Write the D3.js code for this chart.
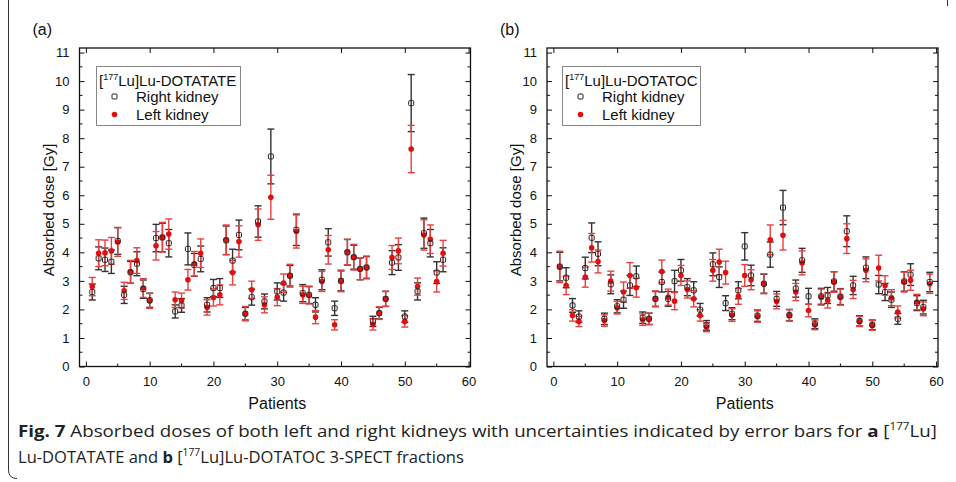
<!DOCTYPE html>
<html>
<head>
<meta charset="utf-8">
<script src="https://cdn.jsdelivr.net/npm/d3@7"></script>
<style>
  body { margin: 0; background: #fff; }
  svg { display: block; }
</style>
</head>
<body>
<div id="chart"></div>
<script>
// panel (a) [177Lu]Lu-DOTATATE, patients 1..56
var patientsA = d3.range(1, 57);
var rightA = [2.61,3.79,3.74,3.67,4.40,2.51,3.30,3.60,2.71,2.32,4.50,4.52,4.32,1.93,2.14,4.12,3.56,3.77,2.16,2.75,
  2.75,4.42,3.71,4.61,1.85,2.43,5.08,2.28,7.36,2.63,2.59,3.18,4.79,2.57,2.51,2.16,3.04,4.35,2.04,3.00,
  4.00,3.83,3.42,3.47,1.58,1.87,2.37,3.64,3.82,1.75,9.23,2.63,4.67,4.32,3.29,3.74];
var rightErrA = [0.28,0.40,0.41,0.41,0.47,0.30,0.38,0.42,0.32,0.25,0.48,0.50,0.48,0.23,0.24,0.56,0.40,0.45,0.25,0.30,
  0.33,0.50,0.40,0.52,0.22,0.28,0.55,0.26,0.96,0.30,0.30,0.36,0.55,0.30,0.30,0.25,0.35,0.48,0.25,0.35,
  0.45,0.42,0.38,0.38,0.18,0.20,0.26,0.42,0.45,0.20,1.00,0.30,0.53,0.48,0.38,0.42];
var leftA = [2.80,3.97,3.98,4.05,4.36,2.65,3.32,3.71,2.75,2.30,4.23,4.53,4.64,2.34,2.31,3.04,3.60,3.97,2.07,2.42,
  2.51,4.44,3.29,4.38,1.85,2.69,4.97,2.16,5.93,2.43,2.92,3.18,4.73,2.51,2.49,1.73,2.98,4.09,1.46,3.00,
  4.01,3.83,3.42,3.47,1.48,1.87,2.37,3.82,4.05,1.58,7.62,2.80,4.61,4.46,2.98,3.97];
var leftErrA = [0.32,0.47,0.45,0.47,0.50,0.30,0.40,0.45,0.33,0.26,0.50,0.52,0.53,0.27,0.26,0.36,0.43,0.50,0.27,0.30,
  0.35,0.52,0.43,0.55,0.25,0.30,0.55,0.28,0.77,0.30,0.32,0.40,0.58,0.30,0.30,0.23,0.35,0.50,0.18,0.38,
  0.45,0.45,0.38,0.40,0.20,0.22,0.27,0.42,0.45,0.20,0.83,0.30,0.53,0.50,0.37,0.45];

// panel (b) [177Lu]Lu-DOTATOC, patients 1..59
var patientsB = d3.range(1, 60);
var rightB = [3.50,3.11,2.14,1.75,3.45,4.51,3.95,1.67,2.88,2.11,2.34,2.84,3.16,1.71,1.67,2.37,2.96,2.37,2.99,3.37,
  2.78,2.67,1.99,1.44,3.58,3.13,2.22,1.85,2.67,4.21,3.19,1.78,2.90,3.92,2.37,5.57,1.80,2.73,3.72,2.46,
  1.50,2.46,2.49,2.98,2.45,4.74,2.84,1.60,3.46,1.46,2.87,2.61,2.34,1.67,2.98,3.22,2.22,2.08,2.96];
var rightErrB = [0.50,0.35,0.24,0.20,0.38,0.52,0.42,0.20,0.33,0.23,0.30,0.35,0.36,0.20,0.20,0.26,0.35,0.26,0.38,0.38,
  0.30,0.30,0.22,0.17,0.40,0.36,0.26,0.21,0.30,0.48,0.36,0.20,0.33,0.44,0.26,0.60,0.20,0.30,0.42,0.28,
  0.17,0.28,0.28,0.34,0.28,0.54,0.32,0.18,0.38,0.17,0.32,0.30,0.27,0.19,0.34,0.38,0.26,0.24,0.34];
var leftB = [3.49,2.84,1.79,1.58,3.13,4.16,3.68,1.61,2.99,2.06,2.61,3.19,2.76,1.64,1.67,2.37,3.33,2.43,2.29,3.19,
  2.70,2.37,1.79,1.38,3.37,3.66,3.29,1.80,2.46,3.19,3.04,1.75,2.90,4.44,2.28,4.60,1.79,2.61,3.63,1.96,
  1.46,2.43,2.32,2.96,2.43,4.48,2.70,1.58,3.37,1.44,3.45,2.84,2.41,1.91,2.96,3.02,2.26,2.02,2.90];
var leftErrB = [0.55,0.32,0.20,0.18,0.35,0.50,0.40,0.20,0.35,0.22,0.35,0.45,0.33,0.20,0.20,0.28,0.40,0.28,0.30,0.35,
  0.30,0.28,0.20,0.16,0.38,0.45,0.40,0.22,0.28,0.38,0.35,0.20,0.35,0.52,0.26,0.52,0.20,0.30,0.42,0.22,
  0.17,0.28,0.27,0.36,0.28,0.52,0.32,0.18,0.40,0.17,0.45,0.34,0.28,0.21,0.35,0.35,0.27,0.24,0.34];

var xTicks = [0, 10, 20, 30, 40, 50, 60];
var yTicks = [0, 1, 2, 3, 4, 5, 6, 7, 8, 9, 10, 11];

var width = 956;
var height = 482;
var black = "#222";
var red = "#e01010";
var redBar = "#e84040";
var plotFont = "'Liberation Sans', Arial, sans-serif";

var svg = d3.select("#chart").append("svg").attr("width", width).attr("height", height);

// outer figure frame
svg.append("path")
  .attr("d", "M8.5,0 L8.5,470 Q8.5,478.5 17,478.5 M947.5,0 L947.5,6")
  .attr("fill", "none").attr("stroke", "#333").attr("stroke-width", 1);

function drawPanel(opt) {
  var x = d3.scaleLinear().domain([-1, 60.3]).range([opt.left, opt.left + 391]);
  var y = d3.scaleLinear().domain([0, 11.16]).range([366.5, 48]);
  var g = svg.append("g").attr("font-family", plotFont).attr("fill", "#111");

  g.append("text").attr("x", opt.left - 47).attr("y", 35).attr("font-size", 16).text(opt.tag);

  g.append("rect").attr("x", x(-1)).attr("y", y(11.16)).attr("width", 391).attr("height", y(0) - y(11.16))
    .attr("fill", "none").attr("stroke", "#111").attr("stroke-width", 1.3);

  var xAxis = d3.axisBottom(x).tickValues(xTicks).tickSize(-5).tickPadding(10).tickFormat(d3.format("d"));
  var xAxisTop = d3.axisTop(x).tickValues(xTicks).tickSize(-5).tickFormat("");
  var yAxis = d3.axisLeft(y).tickValues(yTicks).tickSize(-5).tickPadding(10).tickFormat(d3.format("d"));
  var yAxisRight = d3.axisRight(y).tickValues(yTicks).tickSize(-5).tickFormat("");

  var gx = g.append("g").attr("transform", "translate(0," + y(0) + ")").call(xAxis);
  g.append("g").attr("transform", "translate(0," + y(11.16) + ")").call(xAxisTop);
  var gy = g.append("g").attr("transform", "translate(" + x(-1) + ",0)").call(yAxis);
  g.append("g").attr("transform", "translate(" + x(60.3) + ",0)").call(yAxisRight);

  // minor ticks
  var minorX = d3.range(5, 60, 10);
  var minorY = d3.range(0.5, 11, 1);
  g.selectAll(".mx").data(minorX).enter().append("line")
    .attr("x1", function(d) { return x(d); }).attr("x2", function(d) { return x(d); })
    .attr("y1", y(0)).attr("y2", y(0) - 3).attr("stroke", "#111");
  g.selectAll(".my").data(minorY).enter().append("line")
    .attr("x1", x(-1)).attr("x2", x(-1) + 3)
    .attr("y1", function(d) { return y(d); }).attr("y2", function(d) { return y(d); }).attr("stroke", "#111");
  g.selectAll(".myr").data(minorY).enter().append("line")
    .attr("x1", x(60.3)).attr("x2", x(60.3) - 3)
    .attr("y1", function(d) { return y(d); }).attr("y2", function(d) { return y(d); }).attr("stroke", "#111");

  g.selectAll(".domain").remove();
  g.selectAll(".tick line").attr("stroke", "#111");
  gx.attr("font-family", plotFont);
  gy.attr("font-family", plotFont);
  gx.selectAll("text").attr("font-size", 13).attr("fill", "#111");
  gy.selectAll("text").attr("font-size", 13).attr("fill", "#111");

  g.append("text").attr("x", x(30)).attr("y", 409).attr("text-anchor", "middle").attr("font-size", 16).text("Patients");
  g.append("text").attr("transform", "translate(" + (opt.left - 26) + ",210)rotate(-90)")
    .attr("text-anchor", "middle").attr("font-size", 15).text("Absorbed dose [Gy]");

  // error bars + markers
  function bars(vals, errs, color) {
    var eg = g.append("g").attr("stroke", color).attr("stroke-width", 1.4);
    opt.patients.forEach(function(p, i) {
      var cx = x(p);
      var y1 = y(vals[i] + errs[i]);
      var y2 = y(vals[i] - errs[i]);
      eg.append("line").attr("x1", cx).attr("x2", cx).attr("y1", y1).attr("y2", y2);
      eg.append("line").attr("x1", cx - 3.5).attr("x2", cx + 3.5).attr("y1", y1).attr("y2", y1);
      eg.append("line").attr("x1", cx - 3.5).attr("x2", cx + 3.5).attr("y1", y2).attr("y2", y2);
    });
  }
  bars(opt.right, opt.rightErr, "#333");
  bars(opt.left_, opt.leftErr, redBar);

  g.selectAll(".ldot").data(opt.patients).enter().append("circle")
    .attr("cx", function(d) { return x(d); })
    .attr("cy", function(d, i) { return y(opt.left_[i]); })
    .attr("r", 2.8).attr("fill", red);

  g.selectAll(".rsq").data(opt.patients).enter().append("rect")
    .attr("x", function(d) { return x(d) - 2.5; })
    .attr("y", function(d, i) { return y(opt.right[i]) - 2.5; })
    .attr("width", 5).attr("height", 5).attr("rx", 1)
    .attr("fill", "none").attr("stroke", black).attr("stroke-width", 1);

  // legend
  var lg = g.append("g").attr("transform", "translate(" + opt.legX + ",66)");
  lg.append("rect").attr("x", 0.5).attr("y", 0.5).attr("width", opt.legW).attr("height", 59)
    .attr("fill", "#fff").attr("stroke", "#888");
  var t = lg.append("text").attr("x", 3).attr("y", 20).attr("font-size", 15);
  t.append("tspan").text("[");
  t.append("tspan").attr("font-size", 9).attr("dy", -6).text("177");
  t.append("tspan").attr("dy", 6).text("Lu]Lu-" + opt.drug);
  lg.append("rect").attr("x", 16).attr("y", 28).attr("width", 5).attr("height", 5).attr("rx", 1)
    .attr("fill", "none").attr("stroke", black);
  lg.append("text").attr("x", 40).attr("y", 36).attr("font-size", 15).text("Right kidney");
  lg.append("circle").attr("cx", 18.5).attr("cy", 48.5).attr("r", 2.8).attr("fill", red);
  lg.append("text").attr("x", 40).attr("y", 54).attr("font-size", 15).text("Left kidney");
}

drawPanel({ tag: "(a)", left: 79.5, patients: patientsA, right: rightA, rightErr: rightErrA,
  left_: leftA, leftErr: leftErrA, legX: 96, legW: 144, drug: "DOTATATE" });
drawPanel({ tag: "(b)", left: 547, patients: patientsB, right: rightB, rightErr: rightErrB,
  left_: leftB, leftErr: leftErrB, legX: 562, legW: 138, drug: "DOTATOC" });

// caption
var capFont = "'Open Sans', 'Noto Sans', sans-serif";
function captionLine(yPos, parts, targetW) {
  var cg = svg.append("g");
  var t = cg.append("text").attr("x", 0).attr("y", 0).attr("font-size", 16).attr("font-family", capFont).attr("fill", "#222");
  parts.forEach(function(p) {
    var s = t.append("tspan").text(p.t);
    if (p.b) s.attr("font-weight", "bold");
    if (p.sup) s.attr("font-size", 10).attr("dy", -7);
    if (p.down) s.attr("dy", 7);
  });
  var w = t.node().getComputedTextLength();
  cg.attr("transform", "translate(18," + yPos + ")scale(" + (targetW / w) + ",1)");
}
captionLine(437, [
  { t: "Fig. 7", b: true }, { t: "  Absorbed doses of both left and right kidneys with uncertainties indicated by error bars for " },
  { t: "a", b: true }, { t: " [" }, { t: "177", sup: true }, { t: "Lu]", down: true }
], 920);
captionLine(463, [
  { t: "Lu-DOTATATE and " }, { t: "b", b: true }, { t: " [" }, { t: "177", sup: true },
  { t: "Lu]Lu-DOTATOC 3-SPECT fractions", down: true }
], 446);
</script>
</body>
</html>
